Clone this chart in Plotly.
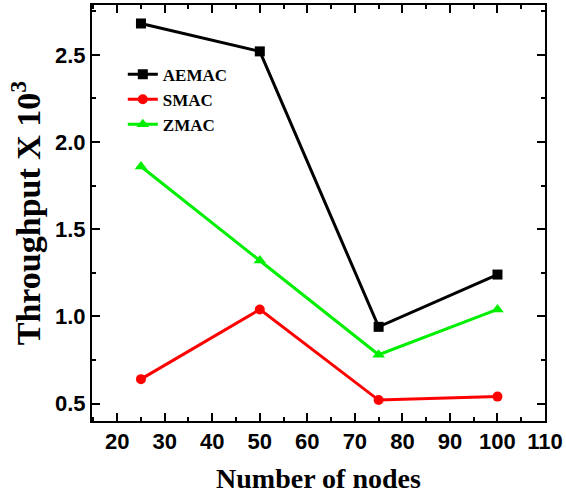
import plotly.graph_objects as go

nodes = [25, 50, 75, 100]
aemac = [2.68, 2.52, 0.94, 1.24]
smac = [0.64, 1.04, 0.52, 0.54]
zmac = [1.86, 1.32, 0.78, 1.04]

fig = go.Figure()
fig.add_trace(go.Scatter(x=nodes, y=aemac, name="AEMAC", mode="lines+markers",
                         line=dict(color="black", width=3),
                         marker=dict(symbol="square", size=10, color="black")))
fig.add_trace(go.Scatter(x=nodes, y=smac, name="SMAC", mode="lines+markers",
                         line=dict(color="#ff0000", width=3),
                         marker=dict(symbol="circle", size=10, color="#ff0000")))
fig.add_trace(go.Scatter(x=nodes, y=zmac, name="ZMAC", mode="lines+markers",
                         line=dict(color="#00ee00", width=3),
                         marker=dict(symbol="triangle-up", size=11, color="#00ee00")))

tfont = dict(family="Liberation Sans", size=22, color="black", weight="bold")
fig.update_layout(
    width=566, height=497,
    margin=dict(l=92, r=21, t=5, b=76),
    paper_bgcolor="white", plot_bgcolor="white",
    showlegend=True,
    legend=dict(x=0.068, y=0.876, xanchor="left", yanchor="top",
                bgcolor="rgba(0,0,0,0)", tracegroupgap=0,
                font=dict(family="Liberation Serif", size=17, color="black", weight="bold")),
    xaxis=dict(range=[14.7, 110], tickvals=[20, 30, 40, 50, 60, 70, 80, 90, 100, 110],
               ticks="inside", ticklen=8, tickwidth=2, tickcolor="black",
               minor=dict(dtick=5, tick0=0, ticks="inside", ticklen=4, tickwidth=1.5, tickcolor="black"),
               showline=True, linecolor="black", linewidth=2, mirror="ticks",
               showgrid=False, zeroline=False, automargin=False,
               tickfont=tfont,
               title=dict(text="Number of nodes", standoff=15,
                          font=dict(family="Liberation Serif", size=28, color="black", weight="bold"))),
    yaxis=dict(range=[0.40, 2.786], tickvals=[0.5, 1.0, 1.5, 2.0, 2.5], ticktext=["0.5", "1.0", "1.5", "2.0", "2.5"],
               ticks="inside", ticklen=8, tickwidth=2, tickcolor="black",
               minor=dict(dtick=0.25, tick0=0, ticks="inside", ticklen=4, tickwidth=1.5, tickcolor="black"),
               showline=True, linecolor="black", linewidth=2, mirror="ticks",
               showgrid=False, zeroline=False, automargin=False,
               tickfont=tfont,
               title=dict(text="Throughput X 10<sup>3</sup>", standoff=4,
                          font=dict(family="Liberation Serif", size=34, color="black", weight="bold"))),
)

fig.write_html("out.html", config={"displayModeBar": False},
               post_script="document.body.style.margin='0';document.body.style.overflow='hidden';")
